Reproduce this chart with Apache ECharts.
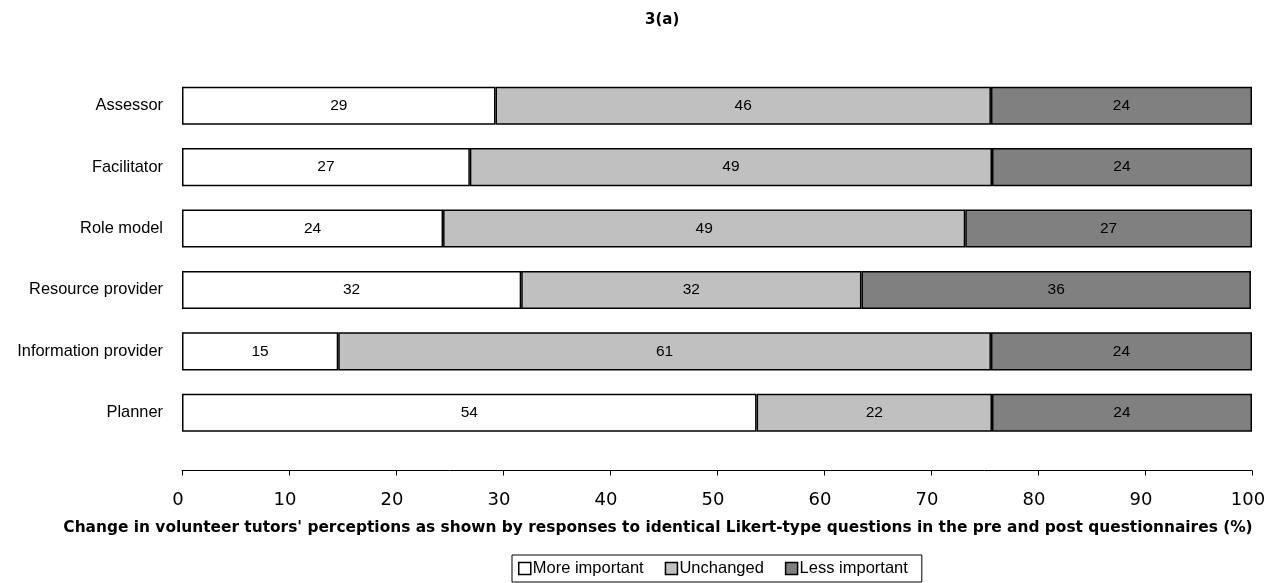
<!DOCTYPE html>
<html><head><meta charset="utf-8">
<script src="https://cdn.jsdelivr.net/npm/echarts@6/dist/echarts.min.js"></script>
<style>html,body{margin:0;padding:0;background:#fff}#c{width:1274px;height:583px}</style>
</head><body><div id="c"></div>
<script>
const categories = ['Assessor','Facilitator','Role model','Resource provider','Information provider','Planner'];
const moreImportant = [29.3, 26.9, 24.4, 31.7, 14.6, 53.7];
const unchanged = [46.3, 48.8, 48.8, 31.8, 61.0, 22.0];
const lessImportant = [24.4, 24.3, 26.8, 36.4, 24.4, 24.3];
const xTicks = [0,10,20,30,40,50,60,70,80,90,100];

const chart = echarts.init(document.getElementById('c'));
const lbl = {show:true, position:'inside', color:'#000', fontSize:15.5, fontFamily:'Liberation Sans, Arial, sans-serif',
  formatter: p => Math.round(p.value)};
const mk = (name, data, color) => ({
  name, type:'bar', stack:'a', data, barCategoryGap:'38%',
  itemStyle:{color, borderColor:'#000', borderWidth:1.5},
  label: lbl
});
chart.setOption({
  animation:false,
  textStyle:{fontFamily:'Liberation Sans, Arial, sans-serif'},
  title:{text:'3(a)', left:645, top:8, padding:[5,0,5,0],
    textStyle:{fontSize:15, fontWeight:'bold', color:'#000', fontFamily:'DejaVu Sans'}},
  grid:{left:182, right:22, top:75, bottom:139.5},
  xAxis:{type:'value', min:0, max:100, interval:10, offset:27,
    axisLine:{show:true, lineStyle:{color:'#000', width:1}},
    axisTick:{show:true, length:5, lineStyle:{color:'#000'}},
    splitLine:{show:false},
    axisLabel:{fontSize:18, color:'#000', margin:21, padding:[0,8,0,0], fontFamily:'DejaVu Sans',
      formatter: v => xTicks.includes(v) ? String(v) : ''},
    name:"Change in volunteer tutors' perceptions as shown by responses to identical Likert-type questions in the pre and post questionnaires (%)",
    nameLocation:'middle', nameGap:50,
    nameTextStyle:{fontSize:15.4, fontWeight:'bold', color:'#000', fontFamily:'DejaVu Sans', padding:[0,118,0,0]}
  },
  yAxis:{type:'category', data:categories, inverse:true,
    axisLine:{show:false}, axisTick:{show:false},
    axisLabel:{fontSize:16.4, color:'#000', margin:19}},
  legend:{bottom:1, left:512, itemWidth:12, itemHeight:12, itemGap:21, icon:'rect',
    borderColor:'#000', borderWidth:1, padding:[5,14,5,6],
    textStyle:{fontSize:16.5, color:'#000', padding:[0,0,0,-3]},
    itemStyle:{borderColor:'#000', borderWidth:1.5},
    data:['More important','Unchanged','Less important']},
  series:[
    mk('More important', moreImportant, '#ffffff'),
    mk('Unchanged', unchanged, '#c0c0c0'),
    mk('Less important', lessImportant, '#808080')
  ]
});
</script></body></html>
